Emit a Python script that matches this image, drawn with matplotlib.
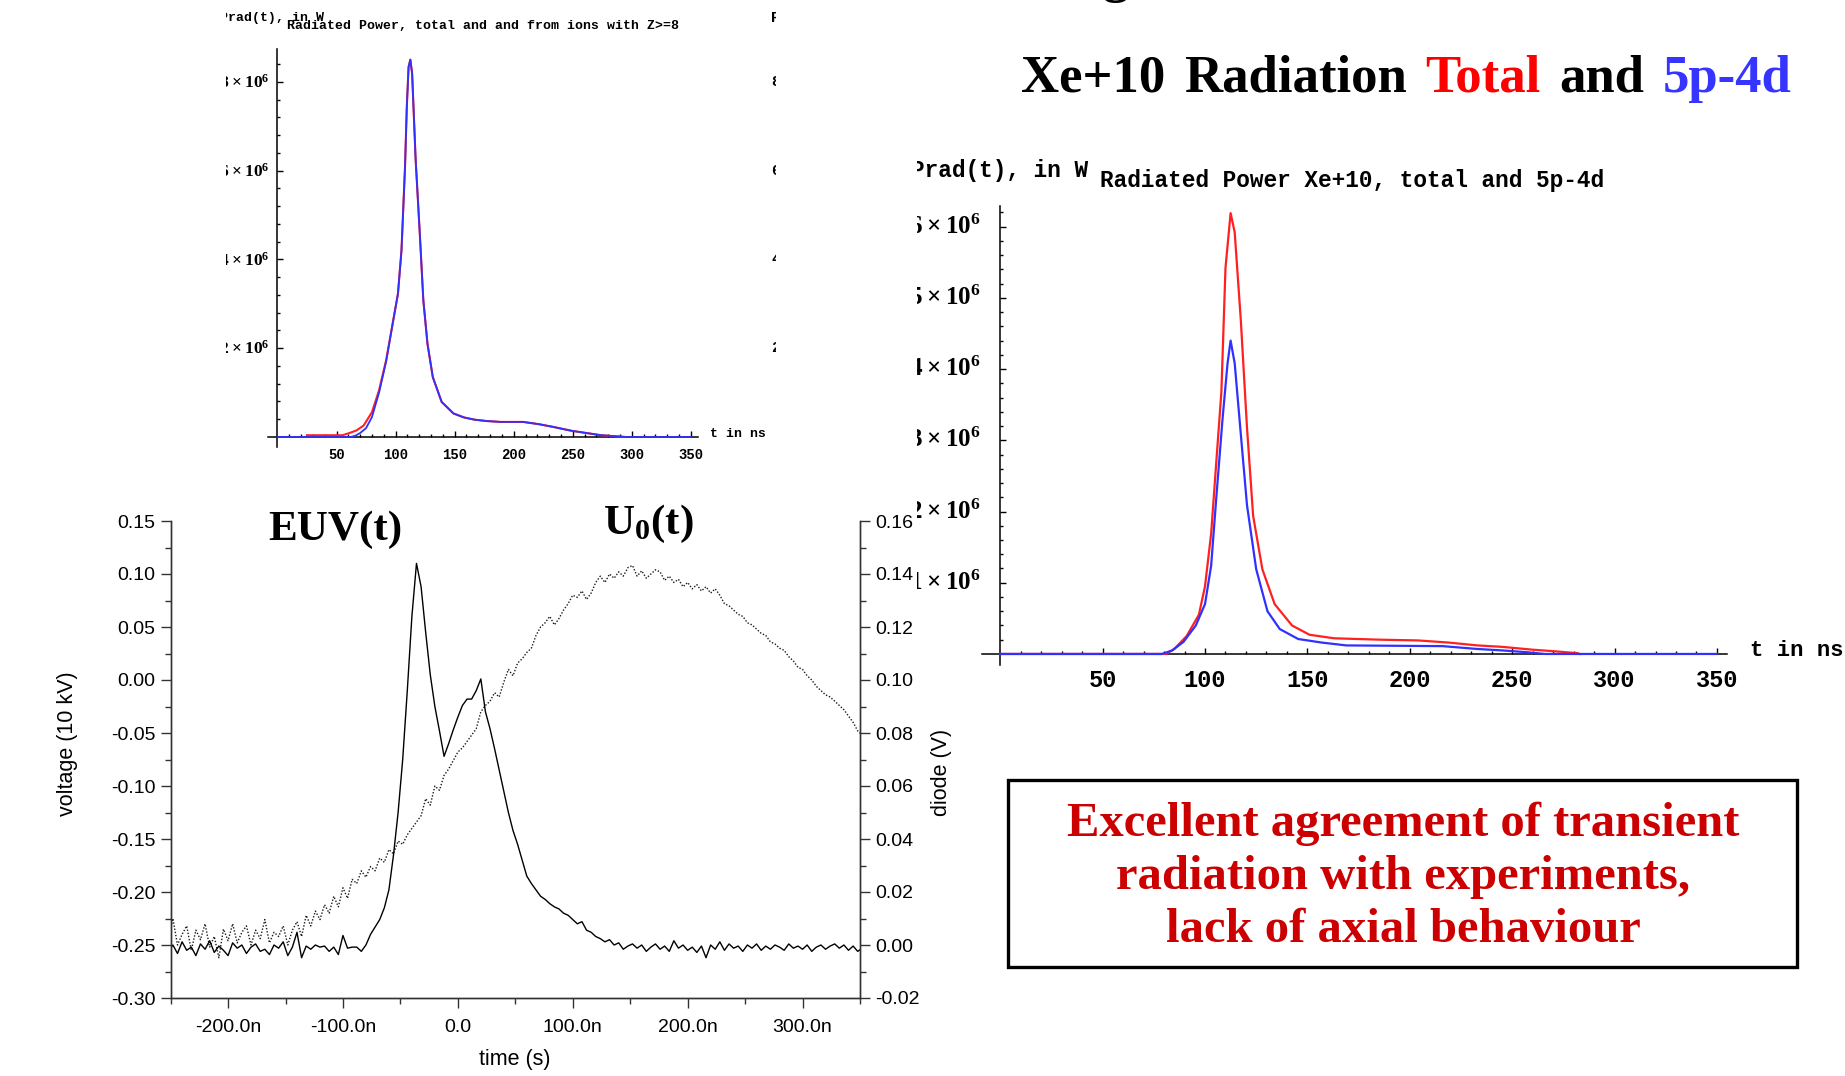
import numpy as np
import matplotlib
matplotlib.use("Agg")
import matplotlib.pyplot as plt
from matplotlib.transforms import Bbox, TransformedBbox, blended_transform_factory

plt.rcParams['font.family'] = ['Liberation Sans', 'DejaVu Sans']
plt.rcParams['mathtext.fontset'] = 'custom'
plt.rcParams['mathtext.rm'] = 'Liberation Serif'
plt.rcParams['mathtext.bf'] = 'Liberation Serif:bold'

# ---- data: top-left panel (radiated power, units of 1e6 W, t in ns)
tl_t_total = [25, 55, 61, 67, 73, 80, 86, 92, 98, 102, 105, 108, 109.5, 111, 112.5, 114, 117, 120.5, 123.5, 127,
              131.5, 139, 149, 158, 167, 177, 189, 208, 221, 233, 249, 264, 274, 290, 295]
tl_total = [0.04, 0.04, 0.09, 0.15, 0.26, 0.56, 1.05, 1.73, 2.63, 3.23, 4.21, 6.09, 7.44, 8.34, 8.50, 8.19, 6.24, 4.58,
            3.08, 2.10, 1.35, 0.79, 0.53, 0.44, 0.39, 0.36, 0.34, 0.34, 0.29, 0.23, 0.14, 0.08, 0.04, 0.01, 0.0]
tl_t_ions = [0, 62, 66, 70, 75, 80, 86, 92, 98, 102, 105, 108, 109.5, 111, 112.5, 114, 117, 120.5, 123.5, 127,
             131.5, 139, 149, 158, 167, 177, 189, 208, 221, 233, 249, 264, 274, 290, 295, 350]
tl_ions = [0, 0, 0.03, 0.09, 0.2, 0.45, 1.0, 1.70, 2.62, 3.22, 4.20, 6.08, 7.43, 8.33, 8.50, 8.19, 6.24, 4.58, 3.08,
           2.10, 1.35, 0.79, 0.53, 0.44, 0.39, 0.36, 0.34, 0.34, 0.29, 0.23, 0.14, 0.08, 0.04, 0.01, 0.0, 0.0]
tl_ylabels = [2, 4, 6, 8]

# ---- data: right panel (Xe+10 total and 5p-4d, units of 1e6 W)
r_t_total = [0, 81, 85, 91, 97, 100, 103, 105.5, 108, 110, 112.5, 114.5, 117.5, 120.5, 123.5, 128, 134, 142.5, 151,
             163, 186, 204, 219, 233, 245, 260, 272, 282, 283]
r_total = [0, 0, 0.07, 0.25, 0.55, 0.95, 1.69, 2.69, 3.68, 5.42, 6.19, 5.92, 4.68, 3.18, 1.94, 1.19, 0.70, 0.40, 0.27,
           0.22, 0.20, 0.19, 0.16, 0.12, 0.10, 0.06, 0.035, 0.01, 0]
r_t_5p4d = [0, 79, 84, 89.5, 95.5, 100, 103, 105.5, 108.5, 111, 112.5, 114.5, 117.5, 120.5, 125, 130.5, 136.5, 145.5,
            157, 169, 216, 233, 245, 257, 266, 350]
r_5p4d = [0, 0, 0.05, 0.17, 0.40, 0.70, 1.24, 2.19, 3.28, 4.08, 4.40, 4.08, 3.08, 2.09, 1.19, 0.60, 0.35, 0.21, 0.16,
          0.12, 0.11, 0.07, 0.05, 0.025, 0, 0]
r_ylabels = [1, 2, 3, 4, 5, 6]

# ---- data: bottom-left measurement, 4 ns sampling from -252 ns, values on the voltage axis
meas_t = np.arange(-252, 353, 4)
euv = [-0.256, -0.250, -0.258, -0.247, -0.255, -0.252, -0.260, -0.249, -0.254, -0.246,
       -0.257, -0.251, -0.255, -0.260, -0.248, -0.253, -0.250, -0.258, -0.252, -0.249,
       -0.256, -0.254, -0.259, -0.250, -0.253, -0.247, -0.260, -0.252, -0.238, -0.262,
       -0.251, -0.254, -0.250, -0.252, -0.251, -0.256, -0.252, -0.259, -0.241, -0.253,
       -0.252, -0.252, -0.256,
       -0.250, -0.240, -0.233, -0.226, -0.215, -0.198, -0.165, -0.125, -0.075, -0.010,
       0.060, 0.110, 0.088, 0.045, 0.005, -0.025, -0.048, -0.072, -0.060, -0.047,
       -0.035, -0.024, -0.018, -0.018, -0.010, 0.001, -0.030, -0.046, -0.065, -0.085,
       -0.105, -0.125, -0.142, -0.155, -0.170, -0.185, -0.192, -0.198, -0.204, -0.207,
       -0.211, -0.214, -0.216, -0.220, -0.222, -0.226, -0.230, -0.228, -0.236, -0.238,
       -0.242, -0.244, -0.247, -0.245,
       -0.250, -0.248, -0.254, -0.251, -0.249, -0.253, -0.250, -0.256, -0.252, -0.249,
       -0.254, -0.251, -0.256, -0.246, -0.253, -0.250, -0.255, -0.252, -0.257, -0.251,
       -0.262, -0.250, -0.254, -0.247, -0.255, -0.249, -0.253, -0.251, -0.256, -0.250,
       -0.253, -0.249, -0.255, -0.251, -0.254, -0.250, -0.252, -0.255, -0.249, -0.253,
       -0.251, -0.254, -0.250, -0.256, -0.252, -0.250, -0.254, -0.251, -0.249, -0.253,
       -0.250, -0.255, -0.251, -0.256, -0.253]
u0 = [-0.245, -0.225, -0.250, -0.240, -0.232, -0.255, -0.236, -0.245, -0.230, -0.252,
      -0.242, -0.262, -0.235, -0.246, -0.230, -0.248, -0.238, -0.232, -0.250, -0.236,
      -0.244, -0.226, -0.248, -0.238, -0.242, -0.232, -0.250, -0.236, -0.228, -0.242,
      -0.222, -0.232, -0.218, -0.226, -0.212, -0.220, -0.204, -0.214, -0.196, -0.206,
      -0.188, -0.192, -0.180, -0.186, -0.176, -0.180, -0.168, -0.172, -0.160, -0.164,
      -0.152, -0.155, -0.146, -0.140, -0.134, -0.128, -0.112, -0.118, -0.100, -0.104,
      -0.090, -0.084, -0.076, -0.068, -0.064, -0.058, -0.052, -0.046, -0.030, -0.024,
      -0.020, -0.012, -0.016, -0.002, 0.010, 0.004, 0.016, 0.020, 0.026, 0.030,
      0.042, 0.050, 0.054, 0.060, 0.052, 0.058, 0.066, 0.072, 0.080, 0.078,
      0.084, 0.076, 0.082, 0.092, 0.098, 0.092, 0.100, 0.096, 0.102, 0.098,
      0.106, 0.108, 0.098, 0.103, 0.096, 0.100, 0.104, 0.102, 0.094, 0.098,
      0.092, 0.095, 0.088, 0.092, 0.086, 0.090, 0.084, 0.088, 0.082, 0.086,
      0.080, 0.072, 0.070, 0.066, 0.062, 0.060, 0.054, 0.052, 0.048, 0.044,
      0.042, 0.036, 0.034, 0.030, 0.028, 0.022, 0.018, 0.012, 0.010, 0.004,
      0.000, -0.006, -0.010, -0.014, -0.016, -0.020, -0.024, -0.028, -0.034, -0.040,
      -0.048, -0.052]
x_ticks = [-200, -100, 0, 100, 200, 300]
x_ticklabels = ['-200.0n', '-100.0n', '0.0', '100.0n', '200.0n', '300.0n']
left_ticks = [-0.30, -0.25, -0.20, -0.15, -0.10, -0.05, 0.00, 0.05, 0.10, 0.15]
right_ticks = [-0.02, 0.00, 0.02, 0.04, 0.06, 0.08, 0.10, 0.12, 0.14, 0.16]

box_lines = ['Excellent agreement of transient', 'radiation with experiments,', 'lack of axial behaviour']
header_words = [('Xe+10', 'black'), ('Radiation', 'black'), ('Total', '#ff0000'), ('and', 'black'), ('5p-4d', '#3535ff')]

W, H = 1845, 1076
fig = plt.figure(figsize=(W / 100, H / 100), dpi=100)
fig.patch.set_facecolor('white')


def fx(px):
    return px / W


def fy(py):
    return 1 - py / H


def clip_px(x0, y0, x1, y1):
    return TransformedBbox(Bbox.from_extents(fx(x0), fy(y1), fx(x1), fy(y0)), fig.transFigure)


def axes_px(left, top, right, bottom):
    return fig.add_axes([fx(left), fy(bottom), fx(right) - fx(left), fy(top) - fy(bottom)])


MONO = 'Liberation Mono'


def mma_axes(box, xlim, ylim, yminor_step, ymax_tick, xfs, xpad):
    ax = axes_px(*box)
    ax.set_xlim(xlim)
    ax.set_ylim(ylim)
    ax.patch.set_alpha(0)
    for s in ['top', 'right']:
        ax.spines[s].set_visible(False)
    for s in ['left', 'bottom']:
        ax.spines[s].set_position(('data', 0))
        ax.spines[s].set_linewidth(1.1)
    ax.set_xticks(range(50, 351, 50), labels=[str(v) for v in range(50, 351, 50)],
                  fontsize=xfs, fontfamily=MONO, fontweight='bold')
    ax.set_xticks(range(10, 351, 10), minor=True)
    ax.set_yticks(np.arange(yminor_step, ymax_tick, yminor_step), minor=True)
    ax.tick_params(which='both', direction='in', width=1)
    ax.tick_params(which='major', length=4)
    ax.tick_params(which='minor', length=2.2)
    ax.tick_params(axis='y', labelleft=False)
    ax.tick_params(axis='x', pad=xpad)
    return ax


# ---------------- top-left panel
tl_clip = clip_px(226, 0, 777, 470)
ax1 = mma_axes((268, 49, 698, 447), (-8, 356), (-0.225, 8.74), 0.4, 8.5, 10, 8)
ax1.set_yticks(tl_ylabels)
ax1.plot(tl_t_total, tl_total, color='#ff2020', lw=1.5, zorder=3)
ax1.plot(tl_t_ions, tl_ions, color='#3030ff', lw=1.3, zorder=4)
tr1 = blended_transform_factory(fig.transFigure, ax1.transData)
for v in tl_ylabels:
    t = fig.text(fx(269), v, r'$\mathbf{%d\times10^{6}}$' % v, transform=tr1, ha='right', va='center', fontsize=12.5)
    t.set_clip_box(tl_clip)
t = fig.text(fx(220), fy(18), 'Prad(t), in W', fontsize=9.5, fontfamily=MONO, fontweight='bold', va='center')
t.set_clip_box(tl_clip)
fig.text(fx(287), fy(26), 'Radiated Power, total and and from ions with Z>=8', fontsize=9.5,
         fontfamily=MONO, fontweight='bold', va='center')
fig.text(fx(710), fy(434), 't in ns', fontsize=9.5, fontfamily=MONO, fontweight='bold', va='center')
# slivers of the neighbouring panel
for yy, s in [(18, 'P'), (82, '8'), (171, '6'), (259, '4'), (348, '2')]:
    t = fig.text(fx(771), fy(yy), s, fontsize=11, fontfamily=MONO, fontweight='bold', va='center')
    t.set_clip_box(clip_px(0, 0, 776, 470))

# ---------------- right panel
r_clip = clip_px(917, 100, 1845, 720)
ax2 = mma_axes((982, 206, 1727, 665), (-8.9, 354.9), (-0.155, 6.29), 0.2, 6.25, 17, 11)
ax2.set_yticks(r_ylabels)
ax2.plot(r_t_total, r_total, color='#ff2020', lw=1.6, zorder=3)
ax2.plot(r_t_5p4d, r_5p4d, color='#3030ff', lw=1.6, zorder=4)
tr2 = blended_transform_factory(fig.transFigure, ax2.transData)
for v in r_ylabels:
    t = fig.text(fx(981), v, r'$\mathbf{%d\times10^{6}}$' % v, transform=tr2, ha='right', va='center', fontsize=18)
    t.set_clip_box(r_clip)
t = fig.text(fx(911), fy(171), 'Prad(t), in W', fontsize=16.4, fontfamily=MONO, fontweight='bold', va='center')
t.set_clip_box(r_clip)
fig.text(fx(1100), fy(180), 'Radiated Power Xe+10, total and 5p-4d', fontsize=16.4,
         fontfamily=MONO, fontweight='bold', va='center')
fig.text(fx(1750), fy(651), 't in ns', fontsize=16, fontfamily=MONO, fontweight='bold', va='center')

# ---------------- header
renderer = fig.canvas.get_renderer()
hdr = dict(fontsize=38, fontweight='bold', fontfamily='Liberation Serif', va='center', ha='left')
texts = [fig.text(0, fy(79), w, color=c, **hdr) for w, c in header_words]
widths = [tt.get_window_extent(renderer).width for tt in texts]
gap = (771 - sum(widths)) / (len(texts) - 1)
x = 1021
for tt, w in zip(texts, widths):
    tt.set_x(fx(x))
    x += w + gap
# tail of a cut-off line above the header
fig.text(fx(1103), fy(-8), 'g', fontsize=38, fontweight='bold', fontfamily='Liberation Serif', va='baseline')

# ---------------- text box
fig.patches.append(plt.Rectangle((fx(1008), fy(967)), fx(1797) - fx(1008), fy(780) - fy(967),
                                 transform=fig.transFigure, fill=False, edgecolor='black', lw=2.4))
for i, line in enumerate(box_lines):
    fig.text(fx(1403), fy(824 + 53 * i), line, color='#cc0000', fontsize=35, fontweight='bold',
             fontfamily='Liberation Serif', ha='center', va='center')

# ---------------- bottom-left measurement
ax = axes_px(170.6, 521, 860, 998)
ax.set_xlim(-250, 350)
ax.set_ylim(-0.30, 0.15)
ax.plot(meas_t, u0, color='#1a1a1a', lw=1.0, ls=(0, (1, 1.3)))
ax.plot(meas_t, euv, color='black', lw=1.0)
ax.set_xticks(x_ticks, labels=x_ticklabels)
ax.set_xticks([-250, -150, -50, 50, 150, 250, 350], minor=True)
ax.set_yticks(left_ticks, labels=['%.2f' % v for v in left_ticks])
ax.set_yticks(np.arange(-0.275, 0.15, 0.05), minor=True)
axr = ax.twinx()
axr.set_ylim(-0.02, 0.16)
axr.set_yticks(right_ticks, labels=['%.2f' % v for v in right_ticks])
axr.set_yticks(np.arange(-0.01, 0.16, 0.02), minor=True)
for a in (ax, axr):
    a.spines['top'].set_visible(False)
    for s in ['left', 'right', 'bottom']:
        a.spines[s].set_linewidth(1.0)
        a.spines[s].set_color('#333333')
    a.tick_params(which='both', direction='out', color='#333333', width=1, labelsize=14)
    a.tick_params(which='major', length=7, pad=4)
    a.tick_params(which='minor', length=4)
ax.tick_params(axis='x', pad=8)

fig.text(fx(67), fy(744), 'voltage (10 kV)', rotation=90, ha='center', va='center', fontsize=15.5)
fig.text(fx(941), fy(772), 'diode (V)', rotation=90, ha='center', va='center', fontsize=15.5)
fig.text(fx(515), fy(1059), 'time (s)', ha='center', va='center', fontsize=15.5)
fig.text(fx(335), fy(530), 'EUV(t)', fontsize=31, fontweight='bold', fontfamily='Liberation Serif',
         ha='center', va='center')
fig.text(fx(648), fy(524), r'$\mathbf{U_0(t)}$', fontsize=31, ha='center', va='center')

fig.savefig('out.png', dpi=100)
